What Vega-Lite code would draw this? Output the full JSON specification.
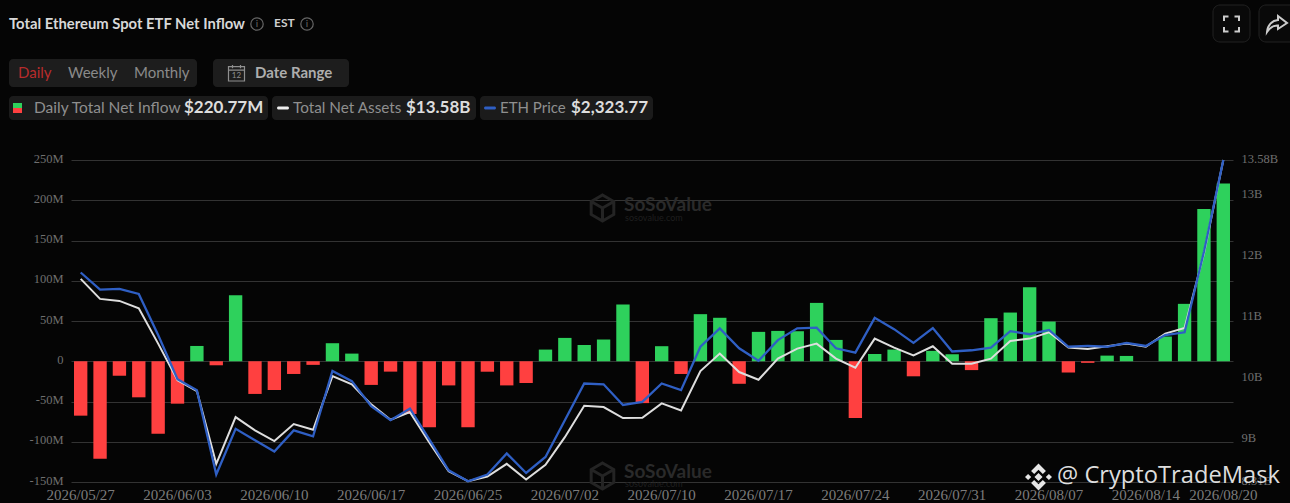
{
  "$schema": "https://vega.github.io/schema/vega-lite/v6.json",
  "background": "#050505",
  "autosize": "none",
  "padding": {"left": 71, "top": 160, "right": 57, "bottom": 21},
  "width": 1162,
  "height": 322,
  "config": {"view": {"stroke": null}, "font": "Lato"},
  "title": {"text": "Total Ethereum Spot ETF Net Inflow", "anchor": "start", "frame": "group", "dx": -62, "offset": -27, "font": "Lato", "fontSize": 14.8, "fontWeight": "bold", "color": "#d8d8d8"},
  "datasets": {
    "etf": [
      {"date": "2026/05/27", "inflow": -67.6, "assets": 11.635, "price": 2036},
      {"date": "2026/05/28", "inflow": -121, "assets": 11.307, "price": 1992},
      {"date": "2026/05/29", "inflow": -18, "assets": 11.274, "price": 1994},
      {"date": "2026/06/01", "inflow": -44.8, "assets": 11.154, "price": 1981},
      {"date": "2026/06/02", "inflow": -90, "assets": 10.575, "price": 1876},
      {"date": "2026/06/03", "inflow": -52.7, "assets": 9.973, "price": 1763},
      {"date": "2026/06/04", "inflow": 19, "assets": 9.799, "price": 1735},
      {"date": "2026/06/05", "inflow": -5, "assets": 8.607, "price": 1519},
      {"date": "2026/06/08", "inflow": 82, "assets": 9.372, "price": 1636},
      {"date": "2026/06/09", "inflow": -40.6, "assets": 9.154, "price": 1607},
      {"date": "2026/06/10", "inflow": -35.7, "assets": 8.979, "price": 1578},
      {"date": "2026/06/11", "inflow": -15.8, "assets": 9.258, "price": 1632},
      {"date": "2026/06/12", "inflow": -4.5, "assets": 9.165, "price": 1617},
      {"date": "2026/06/15", "inflow": 22.4, "assets": 10.044, "price": 1784},
      {"date": "2026/06/16", "inflow": 9.5, "assets": 9.908, "price": 1758},
      {"date": "2026/06/17", "inflow": -29.4, "assets": 9.58, "price": 1694},
      {"date": "2026/06/18", "inflow": -12.9, "assets": 9.329, "price": 1658},
      {"date": "2026/06/22", "inflow": -65.5, "assets": 9.454, "price": 1688},
      {"date": "2026/06/23", "inflow": -82, "assets": 8.957, "price": 1609},
      {"date": "2026/06/24", "inflow": -30, "assets": 8.487, "price": 1530},
      {"date": "2026/06/25", "inflow": -82, "assets": 8.323, "price": 1502},
      {"date": "2026/06/26", "inflow": -13, "assets": 8.4, "price": 1519},
      {"date": "2026/06/29", "inflow": -30, "assets": 8.607, "price": 1573},
      {"date": "2026/06/30", "inflow": -27, "assets": 8.35, "price": 1523},
      {"date": "2026/07/01", "inflow": 14.5, "assets": 8.591, "price": 1564},
      {"date": "2026/07/02", "inflow": 29, "assets": 9.044, "price": 1658},
      {"date": "2026/07/06", "inflow": 20.3, "assets": 9.558, "price": 1752},
      {"date": "2026/07/07", "inflow": 27, "assets": 9.536, "price": 1750},
      {"date": "2026/07/08", "inflow": 70.5, "assets": 9.356, "price": 1697},
      {"date": "2026/07/09", "inflow": -52, "assets": 9.361, "price": 1705},
      {"date": "2026/07/10", "inflow": 18.7, "assets": 9.596, "price": 1752},
      {"date": "2026/07/13", "inflow": -15.8, "assets": 9.482, "price": 1735},
      {"date": "2026/07/14", "inflow": 58.5, "assets": 10.126, "price": 1846},
      {"date": "2026/07/15", "inflow": 54, "assets": 10.411, "price": 1893},
      {"date": "2026/07/16", "inflow": -28, "assets": 10.11, "price": 1842},
      {"date": "2026/07/17", "inflow": 36.5, "assets": 9.984, "price": 1810},
      {"date": "2026/07/20", "inflow": 37.7, "assets": 10.329, "price": 1863},
      {"date": "2026/07/21", "inflow": 37.3, "assets": 10.493, "price": 1893},
      {"date": "2026/07/22", "inflow": 72.5, "assets": 10.575, "price": 1895},
      {"date": "2026/07/23", "inflow": 26.5, "assets": 10.329, "price": 1842},
      {"date": "2026/07/24", "inflow": -70.5, "assets": 10.181, "price": 1831},
      {"date": "2026/07/27", "inflow": 9, "assets": 10.657, "price": 1920},
      {"date": "2026/07/28", "inflow": 14.5, "assets": 10.509, "price": 1891},
      {"date": "2026/07/29", "inflow": -18.7, "assets": 10.383, "price": 1856},
      {"date": "2026/07/30", "inflow": 12.9, "assets": 10.531, "price": 1894},
      {"date": "2026/07/31", "inflow": 8.7, "assets": 10.247, "price": 1834},
      {"date": "2026/08/03", "inflow": -11, "assets": 10.247, "price": 1837},
      {"date": "2026/08/04", "inflow": 53.5, "assets": 10.329, "price": 1844},
      {"date": "2026/08/05", "inflow": 60.5, "assets": 10.618, "price": 1886},
      {"date": "2026/08/06", "inflow": 92, "assets": 10.657, "price": 1878},
      {"date": "2026/08/07", "inflow": 49.3, "assets": 10.76, "price": 1889},
      {"date": "2026/08/10", "inflow": -14, "assets": 10.509, "price": 1846},
      {"date": "2026/08/11", "inflow": -2, "assets": 10.487, "price": 1848},
      {"date": "2026/08/12", "inflow": 7, "assets": 10.531, "price": 1846},
      {"date": "2026/08/13", "inflow": 6.6, "assets": 10.575, "price": 1856},
      {"date": "2026/08/14", "inflow": 0, "assets": 10.525, "price": 1848},
      {"date": "2026/08/17", "inflow": 30.7, "assets": 10.738, "price": 1876},
      {"date": "2026/08/18", "inflow": 71.3, "assets": 10.831, "price": 1883},
      {"date": "2026/08/19", "inflow": 189, "assets": 12.05, "price": 2089},
      {"date": "2026/08/20", "inflow": 220.77, "assets": 13.58, "price": 2323.77}
    ]
  },
  "data": {"name": "etf"},
  "encoding": {
    "x": {
      "field": "date",
      "type": "nominal",
      "sort": null,
      "scale": {"type": "band", "paddingInner": 0.31, "paddingOuter": 0.155},
      "axis": {
        "title": null,
        "values": ["2026/05/27", "2026/06/03", "2026/06/10", "2026/06/17", "2026/06/25", "2026/07/02", "2026/07/10", "2026/07/17", "2026/07/24", "2026/07/31", "2026/08/07", "2026/08/14", "2026/08/20"],
        "labelAngle": 0,
        "labelOverlap": false,
        "labelFont": "Liberation Serif",
        "labelFontSize": 15,
        "labelColor": "#7c7c7c",
        "labelPadding": 5,
        "domain": false,
        "ticks": false,
        "grid": false
      }
    }
  },
  "layer": [
    {"data": {"values": [{"part": "period toggle"}]}, "mark": {"type": "rect", "x": -62, "x2": 126, "y": -101, "y2": -73, "fill": "#1d1d1d", "cornerRadius": 4}, "encoding": {"x": null}},
    {"data": {"values": [{"part": "date range"}]}, "mark": {"type": "rect", "x": 142, "x2": 278, "y": -101, "y2": -73, "fill": "#1d1d1d", "cornerRadius": 4}, "encoding": {"x": null}},
    {"data": {"values": [{"part": "legend inflow"}]}, "mark": {"type": "rect", "x": -62, "x2": 197, "y": -64, "y2": -40, "fill": "#1b1b1b", "cornerRadius": 4}, "encoding": {"x": null}},
    {"data": {"values": [{"part": "legend assets"}]}, "mark": {"type": "rect", "x": 201, "x2": 405, "y": -64, "y2": -40, "fill": "#1b1b1b", "cornerRadius": 4}, "encoding": {"x": null}},
    {"data": {"values": [{"part": "legend price"}]}, "mark": {"type": "rect", "x": 409, "x2": 582, "y": -64, "y2": -40, "fill": "#1b1b1b", "cornerRadius": 4}, "encoding": {"x": null}},
    {"data": {"values": [{"part": "fullscreen"}]}, "mark": {"type": "rect", "x": 1142, "x2": 1179, "y": -155, "y2": -118, "fill": "#090909", "stroke": "#222222", "cornerRadius": 7}, "encoding": {"x": null}},
    {"data": {"values": [{"part": "share"}]}, "mark": {"type": "rect", "x": 1188, "x2": 1226, "y": -155, "y2": -118, "fill": "#090909", "stroke": "#222222", "cornerRadius": 7}, "encoding": {"x": null}},
    {"data": {"values": [{"part": "swatch up"}]}, "mark": {"type": "rect", "x": -58, "x2": -49, "y": -57, "y2": -52, "fill": "#2ed15c"}, "encoding": {"x": null}},
    {"data": {"values": [{"part": "swatch down"}]}, "mark": {"type": "rect", "x": -58, "x2": -49, "y": -52, "y2": -47, "fill": "#ff4040"}, "encoding": {"x": null}},
    {"data": {"values": [{"part": "swatch assets"}]}, "mark": {"type": "rect", "x": 206, "x2": 218, "y": -53.5, "y2": -50.5, "fill": "#eeeeee", "cornerRadius": 1.5}, "encoding": {"x": null}},
    {"data": {"values": [{"part": "swatch price"}]}, "mark": {"type": "rect", "x": 413, "x2": 425, "y": -53.5, "y2": -50.5, "fill": "#2f5fc4", "cornerRadius": 1.5}, "encoding": {"x": null}},

    {"data": {"values": [{"label": "EST"}]}, "mark": {"type": "text", "x": 203, "y": -137, "align": "left", "baseline": "middle", "font": "Lato", "fontSize": 12, "fontWeight": "bold", "fill": "#cfcfcf"}, "encoding": {"x": null, "text": {"field": "label"}}},
    {"data": {"values": [{"label": "i"}]}, "mark": {"type": "text", "x": 186, "y": -136, "align": "center", "baseline": "middle", "font": "Lato", "fontSize": 10, "fill": "#666666"}, "encoding": {"x": null, "text": {"field": "label"}}},
    {"data": {"values": [{"label": "i"}]}, "mark": {"type": "text", "x": 236, "y": -136, "align": "center", "baseline": "middle", "font": "Lato", "fontSize": 10, "fill": "#666666"}, "encoding": {"x": null, "text": {"field": "label"}}},
    {"data": {"values": [{"icon": "info"}]}, "mark": {"type": "point", "x": 186, "y": -136, "shape": "circle", "size": 154, "filled": false, "stroke": "#666666", "strokeWidth": 1.2, "opacity": 1}, "encoding": {"x": null}},
    {"data": {"values": [{"icon": "info"}]}, "mark": {"type": "point", "x": 236, "y": -136, "shape": "circle", "size": 154, "filled": false, "stroke": "#666666", "strokeWidth": 1.2, "opacity": 1}, "encoding": {"x": null}},
    {"data": {"values": [{"icon": "fullscreen"}]}, "mark": {"type": "point", "x": 1160.5, "y": -136, "shape": "M-1,-0.4V-1H-0.4M0.4,-1H1V-0.4M1,0.4V1H0.4M-0.4,1H-1V0.4", "size": 225, "filled": false, "stroke": "#cccccc", "strokeWidth": 2, "opacity": 1}, "encoding": {"x": null}},
    {"data": {"values": [{"icon": "share"}]}, "mark": {"type": "point", "x": 1206, "y": -136, "shape": "M0.1,-0.8L1,-0.1L0.1,0.5V0.15C-0.4,0.1 -0.7,0.35 -1,0.8C-0.95,0.1 -0.5,-0.35 0.1,-0.4Z", "size": 400, "filled": false, "stroke": "#cccccc", "strokeWidth": 2, "opacity": 1}, "encoding": {"x": null}},
    {"data": {"values": [{"icon": "calendar"}]}, "mark": {"type": "point", "x": 165.5, "y": -87, "shape": "M-1,-0.8H1V1H-1ZM-1,-0.35H1M-0.5,-1V-0.6M0.5,-1V-0.6", "size": 256, "filled": false, "stroke": "#8f8f8f", "strokeWidth": 1.2, "opacity": 1}, "encoding": {"x": null}},
    {"data": {"values": [{"label": "12"}]}, "mark": {"type": "text", "x": 165.5, "y": -84, "align": "center", "baseline": "middle", "font": "Lato", "fontSize": 8, "fill": "#8f8f8f"}, "encoding": {"x": null, "text": {"field": "label"}}},

    {"data": {"values": [{"label": "Daily"}]}, "mark": {"type": "text", "x": -53, "y": -87, "align": "left", "baseline": "middle", "font": "Lato", "fontSize": 15, "fill": "#b82c2c"}, "encoding": {"x": null, "text": {"field": "label"}}},
    {"data": {"values": [{"label": "Weekly"}]}, "mark": {"type": "text", "x": -3, "y": -87, "align": "left", "baseline": "middle", "font": "Lato", "fontSize": 15, "fill": "#8a8a8a"}, "encoding": {"x": null, "text": {"field": "label"}}},
    {"data": {"values": [{"label": "Monthly"}]}, "mark": {"type": "text", "x": 63, "y": -87, "align": "left", "baseline": "middle", "font": "Lato", "fontSize": 15, "fill": "#8a8a8a"}, "encoding": {"x": null, "text": {"field": "label"}}},
    {"data": {"values": [{"label": "Date Range"}]}, "mark": {"type": "text", "x": 184, "y": -87, "align": "left", "baseline": "middle", "font": "Lato", "fontSize": 15, "fontWeight": "bold", "fill": "#adadad"}, "encoding": {"x": null, "text": {"field": "label"}}},
    {"data": {"values": [{"label": "Daily Total Net Inflow"}]}, "mark": {"type": "text", "x": -37, "y": -52, "align": "left", "baseline": "middle", "font": "Lato", "fontSize": 15.5, "fill": "#8f8f8f"}, "encoding": {"x": null, "text": {"field": "label"}}},
    {"data": {"values": [{"label": "$220.77M"}]}, "mark": {"type": "text", "x": 113, "y": -52, "align": "left", "baseline": "middle", "font": "Lato", "fontSize": 17, "fontWeight": "bold", "fill": "#dddddd"}, "encoding": {"x": null, "text": {"field": "label"}}},
    {"data": {"values": [{"label": "Total Net Assets"}]}, "mark": {"type": "text", "x": 222, "y": -52, "align": "left", "baseline": "middle", "font": "Lato", "fontSize": 15.3, "fill": "#8f8f8f"}, "encoding": {"x": null, "text": {"field": "label"}}},
    {"data": {"values": [{"label": "$13.58B"}]}, "mark": {"type": "text", "x": 335, "y": -52, "align": "left", "baseline": "middle", "font": "Lato", "fontSize": 17, "fontWeight": "bold", "fill": "#dddddd"}, "encoding": {"x": null, "text": {"field": "label"}}},
    {"data": {"values": [{"label": "ETH Price"}]}, "mark": {"type": "text", "x": 429, "y": -52, "align": "left", "baseline": "middle", "font": "Lato", "fontSize": 15, "fill": "#8f8f8f"}, "encoding": {"x": null, "text": {"field": "label"}}},
    {"data": {"values": [{"label": "$2,323.77"}]}, "mark": {"type": "text", "x": 500, "y": -52, "align": "left", "baseline": "middle", "font": "Lato", "fontSize": 17, "fontWeight": "bold", "fill": "#dddddd"}, "encoding": {"x": null, "text": {"field": "label"}}},

    {"data": {"values": [{"icon": "watermark"}]}, "mark": {"type": "point", "x": 531.5, "y": 48, "shape": "M0,-1L0.87,-0.5L0.87,0.5L0,1L-0.87,0.5L-0.87,-0.5ZM0,0L0.87,-0.5M0,0L-0.87,-0.5M0,0V1", "size": 676, "filled": false, "stroke": "#242424", "strokeWidth": 3, "opacity": 1}, "encoding": {"x": null}},
    {"data": {"values": [{"icon": "watermark"}]}, "mark": {"type": "point", "x": 531.5, "y": 316, "shape": "M0,-1L0.87,-0.5L0.87,0.5L0,1L-0.87,0.5L-0.87,-0.5ZM0,0L0.87,-0.5M0,0L-0.87,-0.5M0,0V1", "size": 676, "filled": false, "stroke": "#242424", "strokeWidth": 3, "opacity": 1}, "encoding": {"x": null}},
    {"data": {"values": [{"label": "SoSoValue"}]}, "mark": {"type": "text", "x": 553, "y": 45, "align": "left", "baseline": "middle", "font": "Lato", "fontSize": 19, "fontWeight": "bold", "fill": "#2a2a2a"}, "encoding": {"x": null, "text": {"field": "label"}}},
    {"data": {"values": [{"label": "SoSoValue"}]}, "mark": {"type": "text", "x": 553, "y": 312, "align": "left", "baseline": "middle", "font": "Lato", "fontSize": 19, "fontWeight": "bold", "fill": "#2a2a2a"}, "encoding": {"x": null, "text": {"field": "label"}}},
    {"data": {"values": [{"label": "sosovalue.com"}]}, "mark": {"type": "text", "x": 554, "y": 58, "align": "left", "baseline": "middle", "font": "Lato", "fontSize": 9, "fill": "#1f1f1f"}, "encoding": {"x": null, "text": {"field": "label"}}},
    {"data": {"values": [{"label": "sosovalue.com"}]}, "mark": {"type": "text", "x": 554, "y": 324, "align": "left", "baseline": "middle", "font": "Lato", "fontSize": 9, "fill": "#1f1f1f"}, "encoding": {"x": null, "text": {"field": "label"}}},

    {
      "mark": {"type": "bar"},
      "encoding": {
        "y": {
          "field": "inflow",
          "type": "quantitative",
          "scale": {"domain": [-150, 250], "nice": false, "zero": false},
          "axis": {
            "title": null,
            "orient": "left",
            "values": [-150, -100, -50, 0, 50, 100, 150, 200, 250],
            "labelExpr": "datum.value === 0 ? '0' : datum.value + 'M'",
            "labelFont": "Liberation Serif",
            "labelFontSize": 12.5,
            "labelColor": "#6f6f6f",
            "labelPadding": 8,
            "labelOffset": -2,
            "labelFlush": false,
            "labelOverlap": false,
            "domain": false,
            "ticks": false,
            "grid": true,
            "gridColor": "#333333",
            "gridWidth": 1
          }
        },
        "color": {"condition": {"test": "datum.inflow >= 0", "value": "#2ed15c"}, "value": "#ff4040"}
      }
    },
    {
      "mark": {"type": "line", "color": "#dedede", "strokeWidth": 2},
      "encoding": {
        "y": {
          "field": "assets",
          "type": "quantitative",
          "scale": {"domain": [8.31, 13.58], "nice": false, "zero": false},
          "axis": {
            "title": null,
            "orient": "right",
            "values": [8.31, 9, 10, 11, 12, 13, 13.58],
            "labelExpr": "datum.value + 'B'",
            "labelFont": "Liberation Serif",
            "labelFontSize": 12.5,
            "labelColor": "#6f6f6f",
            "labelPadding": 8,
            "labelOffset": -2,
            "labelFlush": false,
            "labelOverlap": false,
            "domain": false,
            "ticks": false,
            "grid": false
          }
        }
      }
    },
    {
      "mark": {"type": "line", "color": "#2f5fc4", "strokeWidth": 2.3},
      "encoding": {
        "y": {
          "field": "price",
          "type": "quantitative",
          "scale": {"domain": [1500, 2323.77], "nice": false, "zero": false},
          "axis": null
        }
      }
    },

    {"data": {"values": [{"icon": "binance"}]}, "mark": {"type": "point", "x": 967.5, "y": 317, "shape": "M0,-0.3L0.3,0L0,0.3L-0.3,0ZM-1,0L-0.77,-0.23L-0.54,0L-0.77,0.23ZM1,0L0.77,-0.23L0.54,0L0.77,0.23ZM0,-1L0.55,-0.45L0.32,-0.22L0,-0.54L-0.32,-0.22L-0.55,-0.45ZM0,1L0.55,0.45L0.32,0.22L0,0.54L-0.32,0.22L-0.55,0.45Z", "size": 729, "filled": true, "fill": "#e6e6e6", "opacity": 1}, "encoding": {"x": null}},
    {"data": {"values": [{"label": "@ CryptoTradeMask"}]}, "mark": {"type": "text", "x": 986, "y": 316, "align": "left", "baseline": "middle", "font": "Open Sans", "fontSize": 23.7, "fill": "#dddddd"}, "encoding": {"x": null, "text": {"field": "label"}}}
  ],
  "resolve": {"scale": {"y": "independent"}, "axis": {"y": "independent"}}
}
